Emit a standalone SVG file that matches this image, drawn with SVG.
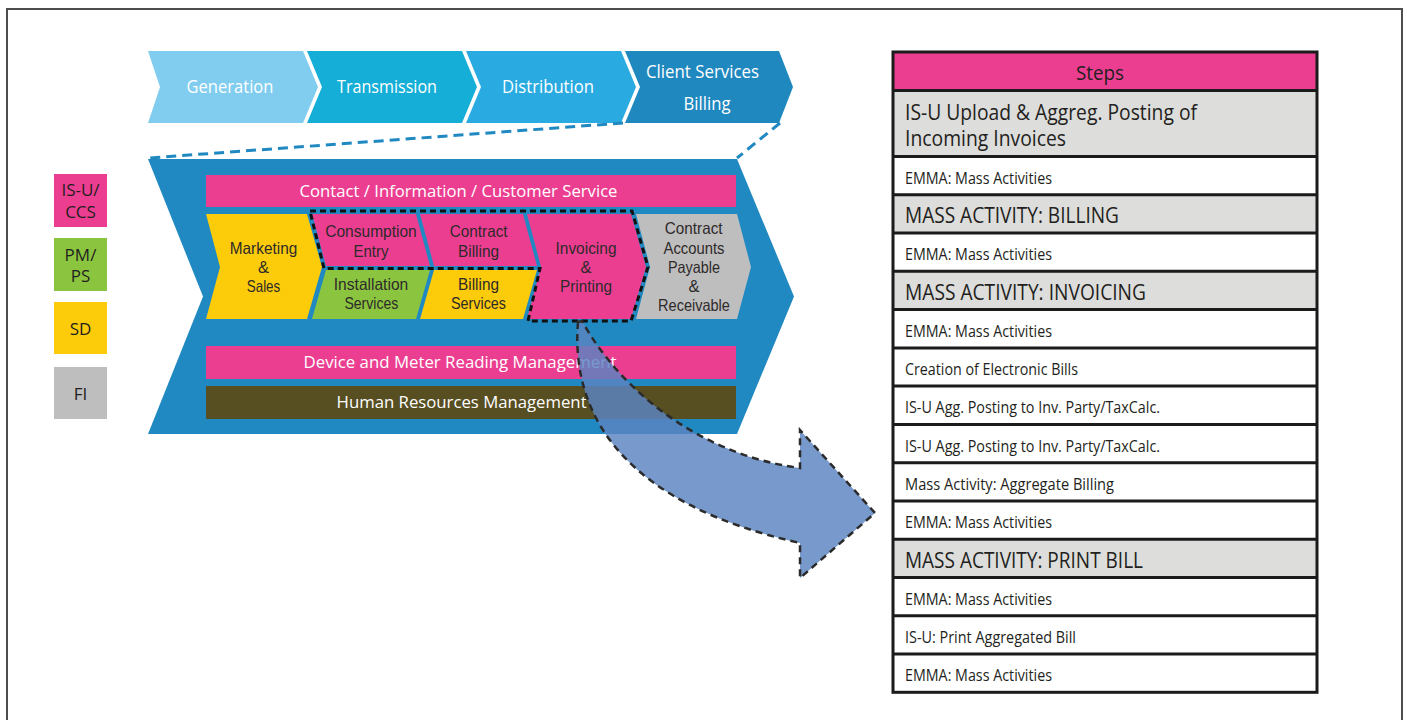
<svg xmlns="http://www.w3.org/2000/svg" width="1407" height="720" viewBox="0 0 1407 720">
  <style>
    text { font-family: "Open Sans", "Noto Sans", "Liberation Sans", sans-serif; }
    .mid { text-anchor: middle; }
    .lt { fill: #ffffff; }
    .dk { fill: #2e2a2a; }
    .top { font-size: 18.5px; }
    .bar { font-size: 17px; }
    .cell { font-size: 16.5px; font-family: "Liberation Sans", Arial, sans-serif; }
    .leg { font-size: 17px; fill: #231f20; text-anchor: middle; }
    .row { font-size: 15.5px; fill: #231f20; }
    .cap { font-size: 21px; fill: #231f20; }
    .pink { fill: #ec3e91; }
    .yellow { fill: #fccc0a; }
    .green { fill: #8bc53f; }
    .grey { fill: #bebebe; }
    .olive { fill: #574e22; }
    .tgrey { fill: #dddddc; }
    .twhite { fill: #ffffff; }
    .rule { stroke: #1b1b1b; stroke-width: 3; fill: none; }
    .zoomline { stroke: #2189c1; stroke-width: 3; stroke-dasharray: 10 6; fill: none; }
  </style>

  <!-- page frame -->
  <path d="M7,720 V9 H1402 V720" fill="none" stroke="#4d4d4d" stroke-width="2"/>

  <!-- upper value chain -->
  <g id="generation">
    <polygon points="148,51 303,51 318,87 303,123 148,123 160,87" fill="#80cdf0"/>
    <text class="top lt mid" x="230" y="93" textLength="87" lengthAdjust="spacingAndGlyphs">Generation</text>
  </g>
  <g id="transmission">
    <polygon points="307,51 462,51 477,87 462,123 307,123 322,87" fill="#14aed7"/>
    <text class="top lt mid" x="387" y="93" textLength="100" lengthAdjust="spacingAndGlyphs">Transmission</text>
  </g>
  <g id="distribution">
    <polygon points="466,51 621,51 636,87 621,123 466,123 481,87" fill="#29abe2"/>
    <text class="top lt mid" x="548" y="93" textLength="92" lengthAdjust="spacingAndGlyphs">Distribution</text>
  </g>
  <g id="client-services">
    <polygon points="625,51 779,51 793,87 779,123 625,123 640,87" fill="#1f88bf"/>
    <text class="top lt mid" x="702.5" y="78" textLength="113" lengthAdjust="spacingAndGlyphs">Client Services</text>
    <text class="top lt mid" x="707" y="110" textLength="47" lengthAdjust="spacingAndGlyphs">Billing</text>
  </g>

  <!-- legend -->
  <g id="legend-isu">
    <rect x="54" y="174" width="53" height="53" class="pink"/>
    <text class="leg" x="80.5" y="196">IS-U/</text>
    <text class="leg" x="80.5" y="217.5">CCS</text>
  </g>
  <g id="legend-pm">
    <rect x="54" y="238" width="53" height="53" class="green"/>
    <text class="leg" x="80.5" y="260.5">PM/</text>
    <text class="leg" x="80.5" y="281.5">PS</text>
  </g>
  <g id="legend-sd">
    <rect x="54" y="302" width="53" height="52" class="yellow"/>
    <text class="leg" x="80.5" y="335">SD</text>
  </g>
  <g id="legend-fi">
    <rect x="54" y="367" width="53" height="52" class="grey"/>
    <text class="leg" x="80.5" y="399.5">FI</text>
  </g>

  <!-- detailed billing chain -->
  <g id="billing-chain">
    <polygon points="148,159 737,159 794,296.5 737,434 148,434 203,296.5" fill="#2189c1"/>
  </g>
  <g id="contact">
    <rect x="206" y="175" width="530" height="32" class="pink"/>
    <text class="bar lt mid" x="458.5" y="197" textLength="318" lengthAdjust="spacingAndGlyphs">Contact / Information / Customer Service</text>
  </g>
  <g id="marketing">
    <polygon points="206,214 307,214 322,267 307,319 206,319 220,267" class="yellow"/>
    <text class="cell dk mid" x="263.5" y="254" textLength="67.5" lengthAdjust="spacingAndGlyphs">Marketing</text>
    <text class="cell dk mid" x="263.5" y="273">&amp;</text>
    <text class="cell dk mid" x="263.5" y="292" textLength="33.5" lengthAdjust="spacingAndGlyphs">Sales</text>
  </g>
  <g id="consumption">
    <polygon points="312,214 416,214 430,266 326,266" class="pink"/>
    <text class="cell dk mid" x="371" y="237" textLength="91.5" lengthAdjust="spacingAndGlyphs">Consumption</text>
    <text class="cell dk mid" x="371" y="257" textLength="35" lengthAdjust="spacingAndGlyphs">Entry</text>
  </g>
  <g id="installation">
    <polygon points="326,270 430,270 416,319 312,319" class="green"/>
    <text class="cell dk mid" x="371" y="290" textLength="74.4" lengthAdjust="spacingAndGlyphs">Installation</text>
    <text class="cell dk mid" x="371.4" y="309" textLength="54" lengthAdjust="spacingAndGlyphs">Services</text>
  </g>
  <g id="contract-billing">
    <polygon points="420,214 523,214 537,266 434,266" class="pink"/>
    <text class="cell dk mid" x="478.7" y="237" textLength="57.7" lengthAdjust="spacingAndGlyphs">Contract</text>
    <text class="cell dk mid" x="478.5" y="257" textLength="41" lengthAdjust="spacingAndGlyphs">Billing</text>
  </g>
  <g id="billing-services">
    <polygon points="434,270 537,270 523,319 420,319" class="yellow"/>
    <text class="cell dk mid" x="478.5" y="290" textLength="41" lengthAdjust="spacingAndGlyphs">Billing</text>
    <text class="cell dk mid" x="478.5" y="309" textLength="55" lengthAdjust="spacingAndGlyphs">Services</text>
  </g>
  <g id="invoicing">
    <polygon points="527,214 631,214 646,267 631,319 527,319 541,267" class="pink"/>
    <text class="cell dk mid" x="586" y="254" textLength="61" lengthAdjust="spacingAndGlyphs">Invoicing</text>
    <text class="cell dk mid" x="586" y="273">&amp;</text>
    <text class="cell dk mid" x="586" y="292" textLength="52" lengthAdjust="spacingAndGlyphs">Printing</text>
  </g>
  <g id="contract-accounts">
    <polygon points="636,214 737,214 751,267 737,319 636,319 650,267" class="grey"/>
    <text class="cell dk mid" x="693.7" y="234" textLength="57.7" lengthAdjust="spacingAndGlyphs">Contract</text>
    <text class="cell dk mid" x="694" y="254" textLength="61" lengthAdjust="spacingAndGlyphs">Accounts</text>
    <text class="cell dk mid" x="694" y="273" textLength="52" lengthAdjust="spacingAndGlyphs">Payable</text>
    <text class="cell dk mid" x="694" y="292">&amp;</text>
    <text class="cell dk mid" x="694" y="311" textLength="71.8" lengthAdjust="spacingAndGlyphs">Receivable</text>
  </g>
  <g id="device">
    <rect x="206" y="346" width="530" height="33" class="pink"/>
    <text class="bar lt mid" x="460" y="368" textLength="313" lengthAdjust="spacingAndGlyphs">Device and Meter Reading Management</text>
  </g>
  <g id="hr">
    <rect x="206" y="386" width="530" height="33" class="olive"/>
    <text class="bar lt mid" x="461.6" y="408" textLength="250" lengthAdjust="spacingAndGlyphs">Human Resources Management</text>
  </g>

  <!-- highlighted billing steps -->
  <g id="selection">
    <path d="M310,211 L632,211 L648,267 L631,321 L528,321 L540,268.5 L324,268.5 Z" fill="none" stroke="#111" stroke-width="3" stroke-dasharray="6 4"/>
  </g>

  <!-- steps table -->
  <g id="steps-table">
    <g id="row-header">
      <rect x="893" y="52" width="424" height="38.5" class="pink"/>
      <text class="mid" x="1100" y="80" font-size="20" fill="#231f20" textLength="48" lengthAdjust="spacingAndGlyphs">Steps</text>
    </g>
    <g id="row-upload">
      <rect x="893" y="90.5" width="424" height="66" class="tgrey"/>
      <text class="cap" x="905" y="120" textLength="292" lengthAdjust="spacingAndGlyphs">IS-U Upload &amp; Aggreg. Posting of</text>
      <text class="cap" x="905" y="146" textLength="161" lengthAdjust="spacingAndGlyphs">Incoming Invoices</text>
    </g>
    <g id="row-1">
      <rect x="893" y="156.5" width="424" height="38.3" class="twhite"/>
      <text class="row" x="905" y="183.7" textLength="147" lengthAdjust="spacingAndGlyphs">EMMA: Mass Activities</text>
    </g>
    <g id="row-2">
      <rect x="893" y="194.8" width="424" height="38.2" class="tgrey"/>
      <text class="cap" x="905" y="223.1" textLength="214" lengthAdjust="spacingAndGlyphs">MASS ACTIVITY: BILLING</text>
    </g>
    <g id="row-3">
      <rect x="893" y="233" width="424" height="38.3" class="twhite"/>
      <text class="row" x="905" y="260.2" textLength="147" lengthAdjust="spacingAndGlyphs">EMMA: Mass Activities</text>
    </g>
    <g id="row-4">
      <rect x="893" y="271.3" width="424" height="38.3" class="tgrey"/>
      <text class="cap" x="905" y="299.6" textLength="241" lengthAdjust="spacingAndGlyphs">MASS ACTIVITY: INVOICING</text>
    </g>
    <g id="row-5">
      <rect x="893" y="309.6" width="424" height="38.3" class="twhite"/>
      <text class="row" x="905" y="336.8" textLength="147" lengthAdjust="spacingAndGlyphs">EMMA: Mass Activities</text>
    </g>
    <g id="row-6">
      <rect x="893" y="347.9" width="424" height="38.2" class="twhite"/>
      <text class="row" x="905" y="375.1" textLength="173" lengthAdjust="spacingAndGlyphs">Creation of Electronic Bills</text>
    </g>
    <g id="row-7">
      <rect x="893" y="386.1" width="424" height="38.3" class="twhite"/>
      <text class="row" x="905" y="413.3" textLength="255" lengthAdjust="spacingAndGlyphs">IS-U Agg. Posting to Inv. Party/TaxCalc.</text>
    </g>
    <g id="row-8">
      <rect x="893" y="424.4" width="424" height="38.3" class="twhite"/>
      <text class="row" x="905" y="451.6" textLength="255" lengthAdjust="spacingAndGlyphs">IS-U Agg. Posting to Inv. Party/TaxCalc.</text>
    </g>
    <g id="row-9">
      <rect x="893" y="462.7" width="424" height="38.2" class="twhite"/>
      <text class="row" x="905" y="489.9" textLength="209" lengthAdjust="spacingAndGlyphs">Mass Activity: Aggregate Billing</text>
    </g>
    <g id="row-10">
      <rect x="893" y="500.9" width="424" height="38.3" class="twhite"/>
      <text class="row" x="905" y="528.1" textLength="147" lengthAdjust="spacingAndGlyphs">EMMA: Mass Activities</text>
    </g>
    <g id="row-11">
      <rect x="893" y="539.2" width="424" height="38.3" class="tgrey"/>
      <text class="cap" x="905" y="567.5" textLength="238" lengthAdjust="spacingAndGlyphs">MASS ACTIVITY: PRINT BILL</text>
    </g>
    <g id="row-12">
      <rect x="893" y="577.5" width="424" height="38.2" class="twhite"/>
      <text class="row" x="905" y="604.7" textLength="147" lengthAdjust="spacingAndGlyphs">EMMA: Mass Activities</text>
    </g>
    <g id="row-13">
      <rect x="893" y="615.7" width="424" height="38.3" class="twhite"/>
      <text class="row" x="905" y="642.9" textLength="171" lengthAdjust="spacingAndGlyphs">IS-U: Print Aggregated Bill</text>
    </g>
    <g id="row-14">
      <rect x="893" y="654" width="424" height="38.3" class="twhite"/>
      <text class="row" x="905" y="681.2" textLength="147" lengthAdjust="spacingAndGlyphs">EMMA: Mass Activities</text>
    </g>
    <!-- grid rules -->
    <path class="rule" d="M893,90.5 H1317 M893,156.5 H1317 M893,194.8 H1317 M893,233 H1317 M893,271.3 H1317 M893,309.6 H1317 M893,347.9 H1317 M893,386.1 H1317 M893,424.4 H1317 M893,462.7 H1317 M893,500.9 H1317 M893,539.2 H1317 M893,577.5 H1317 M893,615.7 H1317 M893,654 H1317"/>
    <rect class="rule" x="893" y="52" width="424" height="640.3"/>
  </g>

  <!-- connectors: zoom lines and the curved arrow into the steps -->
  <g id="connectors">
    <path class="zoomline" d="M623,123 L149,158"/>
    <path class="zoomline" d="M780,123 L737,158"/>
    <path d="M578,322 C570,420 630,505 800,543 L800,578 L875,513 L800,430 L800,468 C700,455 620,390 582,321 Z"
          fill="#5b84c2" fill-opacity="0.83" stroke="#2b2b2b" stroke-width="2.5" stroke-dasharray="7 5"/>
  </g>
</svg>
